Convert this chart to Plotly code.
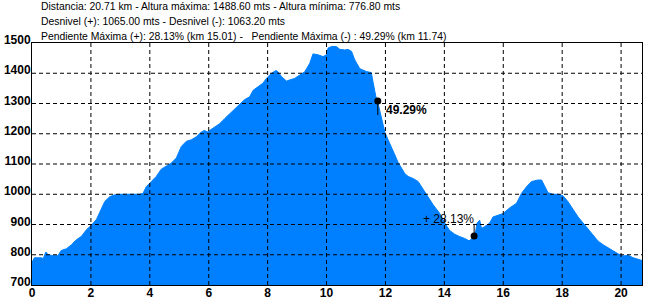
import plotly.graph_objects as go

km = [0.00, 0.03, 0.08, 0.32, 0.38, 0.47, 0.55, 0.71, 0.88, 0.99, 1.17, 1.34, 1.51, 1.68, 1.85,
      2.02, 2.19, 2.30, 2.47, 2.64, 2.81, 2.98, 3.66, 3.77, 3.88, 4.05, 4.22, 4.39, 4.56, 4.73,
      4.90, 5.07, 5.24, 5.41, 5.58, 5.75, 5.86, 5.95, 6.03, 6.20, 6.37, 6.54, 6.71, 6.88, 7.05,
      7.22, 7.39, 7.51, 7.67, 7.84, 7.96, 8.13, 8.28, 8.35, 8.47, 8.64, 8.75, 8.92, 9.09, 9.26,
      9.43, 9.54, 9.71, 9.88, 10.00, 10.05, 10.17, 10.34, 10.45, 10.62, 10.73, 10.85, 10.96, 11.13,
      11.35, 11.52, 11.58, 11.67, 11.75, 11.86, 11.98, 12.09, 12.20, 12.32, 12.43, 12.54, 12.66,
      12.77, 12.94, 13.11, 13.22, 13.34, 13.45, 13.62, 13.84, 14.01, 14.18, 14.35, 14.52, 14.69,
      14.84, 14.97, 15.05, 15.11, 15.20, 15.26, 15.37, 15.54, 15.65, 15.82, 15.99, 16.22, 16.45,
      16.62, 16.79, 16.96, 17.18, 17.30, 17.41, 17.52, 17.69, 17.86, 18.03, 18.20, 18.37, 18.54,
      18.71, 18.88, 19.05, 19.22, 19.39, 19.56, 19.73, 19.90, 20.07, 20.24, 20.41, 20.58, 20.71]
elev = [778, 781, 790, 790, 787, 809, 800, 797, 797, 814, 820, 833, 850, 861, 883,
        898, 917, 942, 976, 992, 998, 1000, 1000, 1003, 1025, 1042, 1059, 1083, 1092, 1103,
        1120, 1158, 1175, 1180, 1190, 1206, 1211, 1206, 1211, 1222, 1233, 1250, 1266, 1283, 1300,
        1313, 1322, 1344, 1355, 1367, 1383, 1400, 1409, 1405, 1389, 1374, 1378, 1383, 1394, 1405,
        1433, 1464, 1461, 1455, 1461, 1483, 1488.6, 1488, 1479, 1477, 1479, 1472, 1444, 1415,
        1406, 1402, 1370, 1325, 1300, 1250, 1205, 1180, 1158, 1130, 1105, 1088, 1068,
        1059, 1052, 1042, 1025, 1004, 987, 965, 937, 905, 880, 868, 860, 854,
        846, 856, 870, 905, 914, 887, 893, 905, 925, 931, 936, 955, 970,
        1003, 1025, 1042, 1047, 1047, 1025, 1005, 1000, 1000, 995, 975, 950, 925,
        905, 885, 865, 845, 833, 823, 814, 803, 796, 798, 790, 784, 781]

x_ticks = [0, 2, 4, 6, 8, 10, 12, 14, 16, 18, 20]
y_ticks = [700, 800, 900, 1000, 1100, 1200, 1300, 1400, 1500]
x_max = 20.71

header = [
    "Distancia: 20.71 km - Altura máxima: 1488.60 mts - Altura mínima: 776.80 mts",
    "Desnivel (+): 1065.00 mts - Desnivel (-): 1063.20 mts",
    "Pendiente Máxima (+): 28.13% (km 15.01) -   Pendiente Máxima (-) : 49.29% (km 11.74)",
]

max_down = dict(km=11.74, elev=1308, label="49.29%", label_elev=1277, stem_end=1262)
max_up = dict(km=15.01, elev=862, label="+ 28.13%", label_elev=918, stem_end=902)

fig = go.Figure()
fig.add_trace(go.Scatter(x=km, y=elev, mode="lines", fill="tozeroy",
                         line=dict(color="rgb(0,128,255)", width=1),
                         fillcolor="rgb(0,128,255)", hoverinfo="skip"))

# stems and dots
for m in (max_down, max_up):
    fig.add_trace(go.Scatter(x=[m["km"], m["km"]], y=[m["elev"], m["stem_end"]], mode="lines",
                             line=dict(color="black", width=1), hoverinfo="skip"))
    fig.add_trace(go.Scatter(x=[m["km"]], y=[m["elev"]], mode="markers",
                             marker=dict(color="black", size=7), hoverinfo="skip"))

fig.add_annotation(x=max_down["km"], y=max_down["label_elev"], text=max_down["label"],
                   xanchor="left", yanchor="middle", xshift=6, showarrow=False,
                   font=dict(family="Liberation Sans", size=12, color="black", weight="bold"))
fig.add_annotation(x=max_up["km"], y=max_up["label_elev"], text=max_up["label"],
                   xanchor="right", yanchor="middle", xshift=2, showarrow=False,
                   font=dict(family="Liberation Sans", size=12, color="black"))

# dashed grid drawn above the fill
for v in x_ticks[1:]:
    fig.add_shape(type="line", xref="x", yref="y", x0=v, x1=v, y0=y_ticks[0], y1=y_ticks[-1],
                  line=dict(color="black", width=1, dash="4px,3px"), layer="above")
for v in y_ticks[1:-1]:
    fig.add_shape(type="line", xref="x", yref="y", x0=0, x1=x_max, y0=v, y1=v,
                  line=dict(color="black", width=1, dash="4px,3px"), layer="above")

header_y = [1.149, 1.087, 1.025]
for txt, yy in zip(header, header_y):
    fig.add_annotation(xref="paper", yref="paper", x=0.0115, y=yy, text=txt,
                       xanchor="left", yanchor="middle", showarrow=False,
                       font=dict(family="Liberation Sans", size=10.4, color="black"))

tick_font = dict(family="Liberation Sans", size=12, color="black", weight="bold")
fig.update_xaxes(range=[0, x_max], tickvals=x_ticks, showgrid=False, zeroline=False,
                 showline=True, mirror=True, linecolor="black", linewidth=1,
                 ticks="", tickfont=tick_font, automargin=False, ticklabelstandoff=-3)
fig.update_yaxes(range=[700, 1500], tickvals=y_ticks, showgrid=False, zeroline=False,
                 showline=True, mirror=True, linecolor="black", linewidth=1,
                 ticks="", tickfont=tick_font, automargin=False, ticklabelstandoff=-2,
                 ticklabelshift=-3)
fig.update_layout(width=658, height=300, margin=dict(l=32, r=16, t=43, b=15, pad=0),
                  paper_bgcolor="white", plot_bgcolor="white", showlegend=False)

fig.write_html("out.html")
